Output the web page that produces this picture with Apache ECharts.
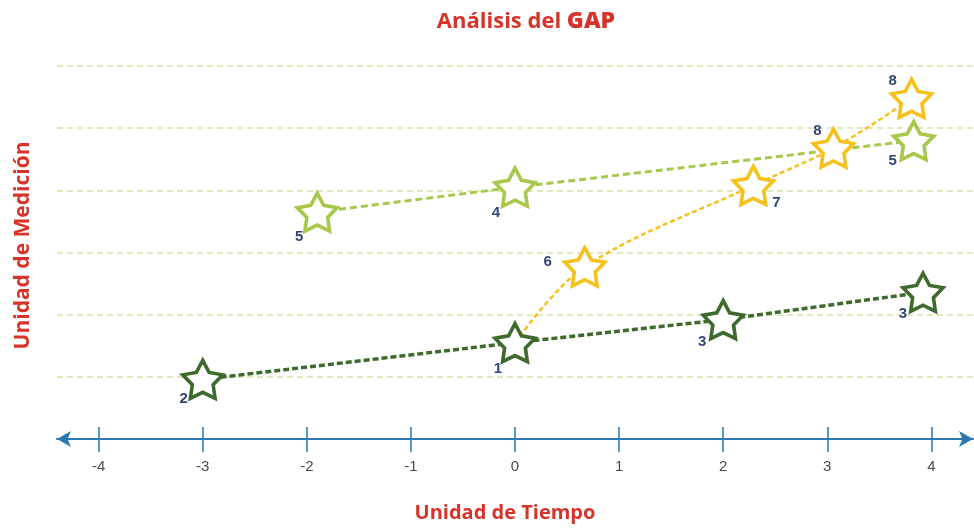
<!DOCTYPE html>
<html>
<head>
<meta charset="utf-8">
<script src="https://cdn.jsdelivr.net/npm/echarts@6/dist/echarts.min.js"></script>
<style>html,body{margin:0;padding:0;background:#fff;}#c{width:974px;height:530px;}</style>
</head>
<body>
<div id="c"></div>
<script>
// ---- data ----
var xTicks = [-4, -3, -2, -1, 0, 1, 2, 3, 4];
var darkX = [-3, 0, 2, 3.92];
var darkY = [0.96, 1.55, 1.92, 2.36];
var darkLabels = ['2', '1', '3', '3'];
var limeX = [-1.9, 0, 3.83];
var limeY = [3.65, 4.05, 4.8];
var limeLabels = ['5', '4', '5'];
var yellowX = [0, 0.67, 2.29, 3.06, 3.81];
var yellowY = [1.55, 2.77, 4.08, 4.68, 5.48];
var yellowLabels = ['', '6', '7', '8', '8'];

// ---- styling ----
var RED = '#d8332a', NAVY = '#34457a', BLUE = '#2a78ad';
var DARK = '#3e6a2d', LIME = '#a8c84b', YEL = '#f5c21c';

function starPath() {
  var pts = [], R = 50, r = 26;
  for (var i = 0; i < 10; i++) {
    var a = -Math.PI / 2 + i * Math.PI / 5;
    var rad = i % 2 === 0 ? R : r;
    pts.push((50 + rad * Math.cos(a)).toFixed(2) + ' ' + (52 + rad * Math.sin(a)).toFixed(2));
  }
  return 'path://M' + pts.join(' L') + ' Z';
}
var STAR = starPath();

var darkOff = [[-19, 20], [-17, 26], [-21, 22], [-20, 22]];
var limeOff = [[-18, 25], [-19, 26], [-21, 20]];
var yelOff = [[0, 0], [-37, -5], [23, 17], [-16, -17], [-19, -17]];

function build(xs, ys, labels, offs, noSymbolFirst) {
  return xs.map(function (x, i) {
    var d = { value: [x, ys[i]], label: { show: labels[i] !== '', formatter: labels[i], offset: offs[i] } };
    if (noSymbolFirst && i === 0) { d.symbol = 'none'; d.label.show = false; }
    return d;
  });
}

var labelBase = { show: true, position: 'inside', color: NAVY, fontSize: 15, fontWeight: 'bold', fontFamily: 'Liberation Sans, Arial, sans-serif' };

var chart = echarts.init(document.getElementById('c'));
chart.setOption({
  animation: false,
  backgroundColor: '#fff',
  title: {
    text: '{a|Análisis del }{b|GAP}',
    left: 521, top: 5, textAlign: 'center',
    textStyle: {
      rich: {
        a: { color: RED, fontSize: 22, fontWeight: 'bold', fontFamily: 'Open Sans, sans-serif' },
        b: { color: RED, fontSize: 23, fontWeight: 900, fontFamily: 'Open Sans, sans-serif' }
      }
    }
  },
  graphic: [{
    type: 'text', x: 505, y: 503,
    style: { text: 'Unidad de Tiempo', fill: RED, font: 'bold 20px "Open Sans", sans-serif', textAlign: 'center' }
  }],
  grid: { left: 57, right: 1, top: 66, bottom: 91 },
  xAxis: [{
    type: 'value', min: -4.4, max: 4.4,
    axisLine: { onZero: false, show: true, lineStyle: { color: BLUE, width: 2 }, symbol: ['arrow', 'arrow'], symbolSize: [12, 14] },
    axisTick: { show: true, customValues: xTicks, length: 13, lineStyle: { color: BLUE, width: 1.5 } },
    axisLabel: { customValues: xTicks, color: '#4a4a4a', fontSize: 15, margin: 20, fontFamily: 'Liberation Sans Narrow, Arial Narrow, sans-serif' },
    splitLine: { show: false }
  }, {
    type: 'value', min: -4.4, max: 4.4, position: 'bottom',
    axisLine: { show: false, onZero: false },
    axisTick: { show: true, inside: true, customValues: xTicks, length: 12, lineStyle: { color: BLUE, width: 1.5 } },
    axisLabel: { show: false },
    splitLine: { show: false }
  }],
  yAxis: {
    type: 'value', min: 0, max: 6, interval: 1,
    name: 'Unidad de Medición', nameLocation: 'middle', nameGap: 23, nameRotate: 90,
    nameTextStyle: { color: RED, fontSize: 21, fontWeight: 'bold', fontFamily: 'Open Sans, sans-serif', padding: [0, 0, 0, 14] },
    axisLine: { show: false }, axisTick: { show: false }, axisLabel: { show: false },
    splitLine: { show: true, lineStyle: { color: '#d6e5a8', width: 1.5, type: [6, 4] } }
  },
  series: [{
    type: 'line', name: 'lime', data: build(limeX, limeY, limeLabels, limeOff, false),
    symbol: STAR, symbolSize: 40, symbolKeepAspect: true, z: 3,
    lineStyle: { color: LIME, width: 3, type: [7, 4] },
    itemStyle: { color: '#fff', borderColor: LIME, borderWidth: 3.6 },
    label: labelBase
  }, {
    type: 'line', name: 'yellow', data: build(yellowX, yellowY, yellowLabels, yelOff, true),
    smooth: 0.35, symbol: STAR, symbolSize: 40, symbolKeepAspect: true, z: 4,
    lineStyle: { color: YEL, width: 2.5, type: [5, 3] },
    itemStyle: { color: '#fff', borderColor: YEL, borderWidth: 3.6 },
    label: labelBase
  }, {
    type: 'line', name: 'dark', data: build(darkX, darkY, darkLabels, darkOff, false),
    symbol: STAR, symbolSize: 40, symbolKeepAspect: true, z: 5,
    lineStyle: { color: DARK, width: 3.5, type: [6, 3] },
    itemStyle: { color: '#fff', borderColor: DARK, borderWidth: 3.6 },
    label: labelBase
  }]
});
</script>
</body>
</html>
